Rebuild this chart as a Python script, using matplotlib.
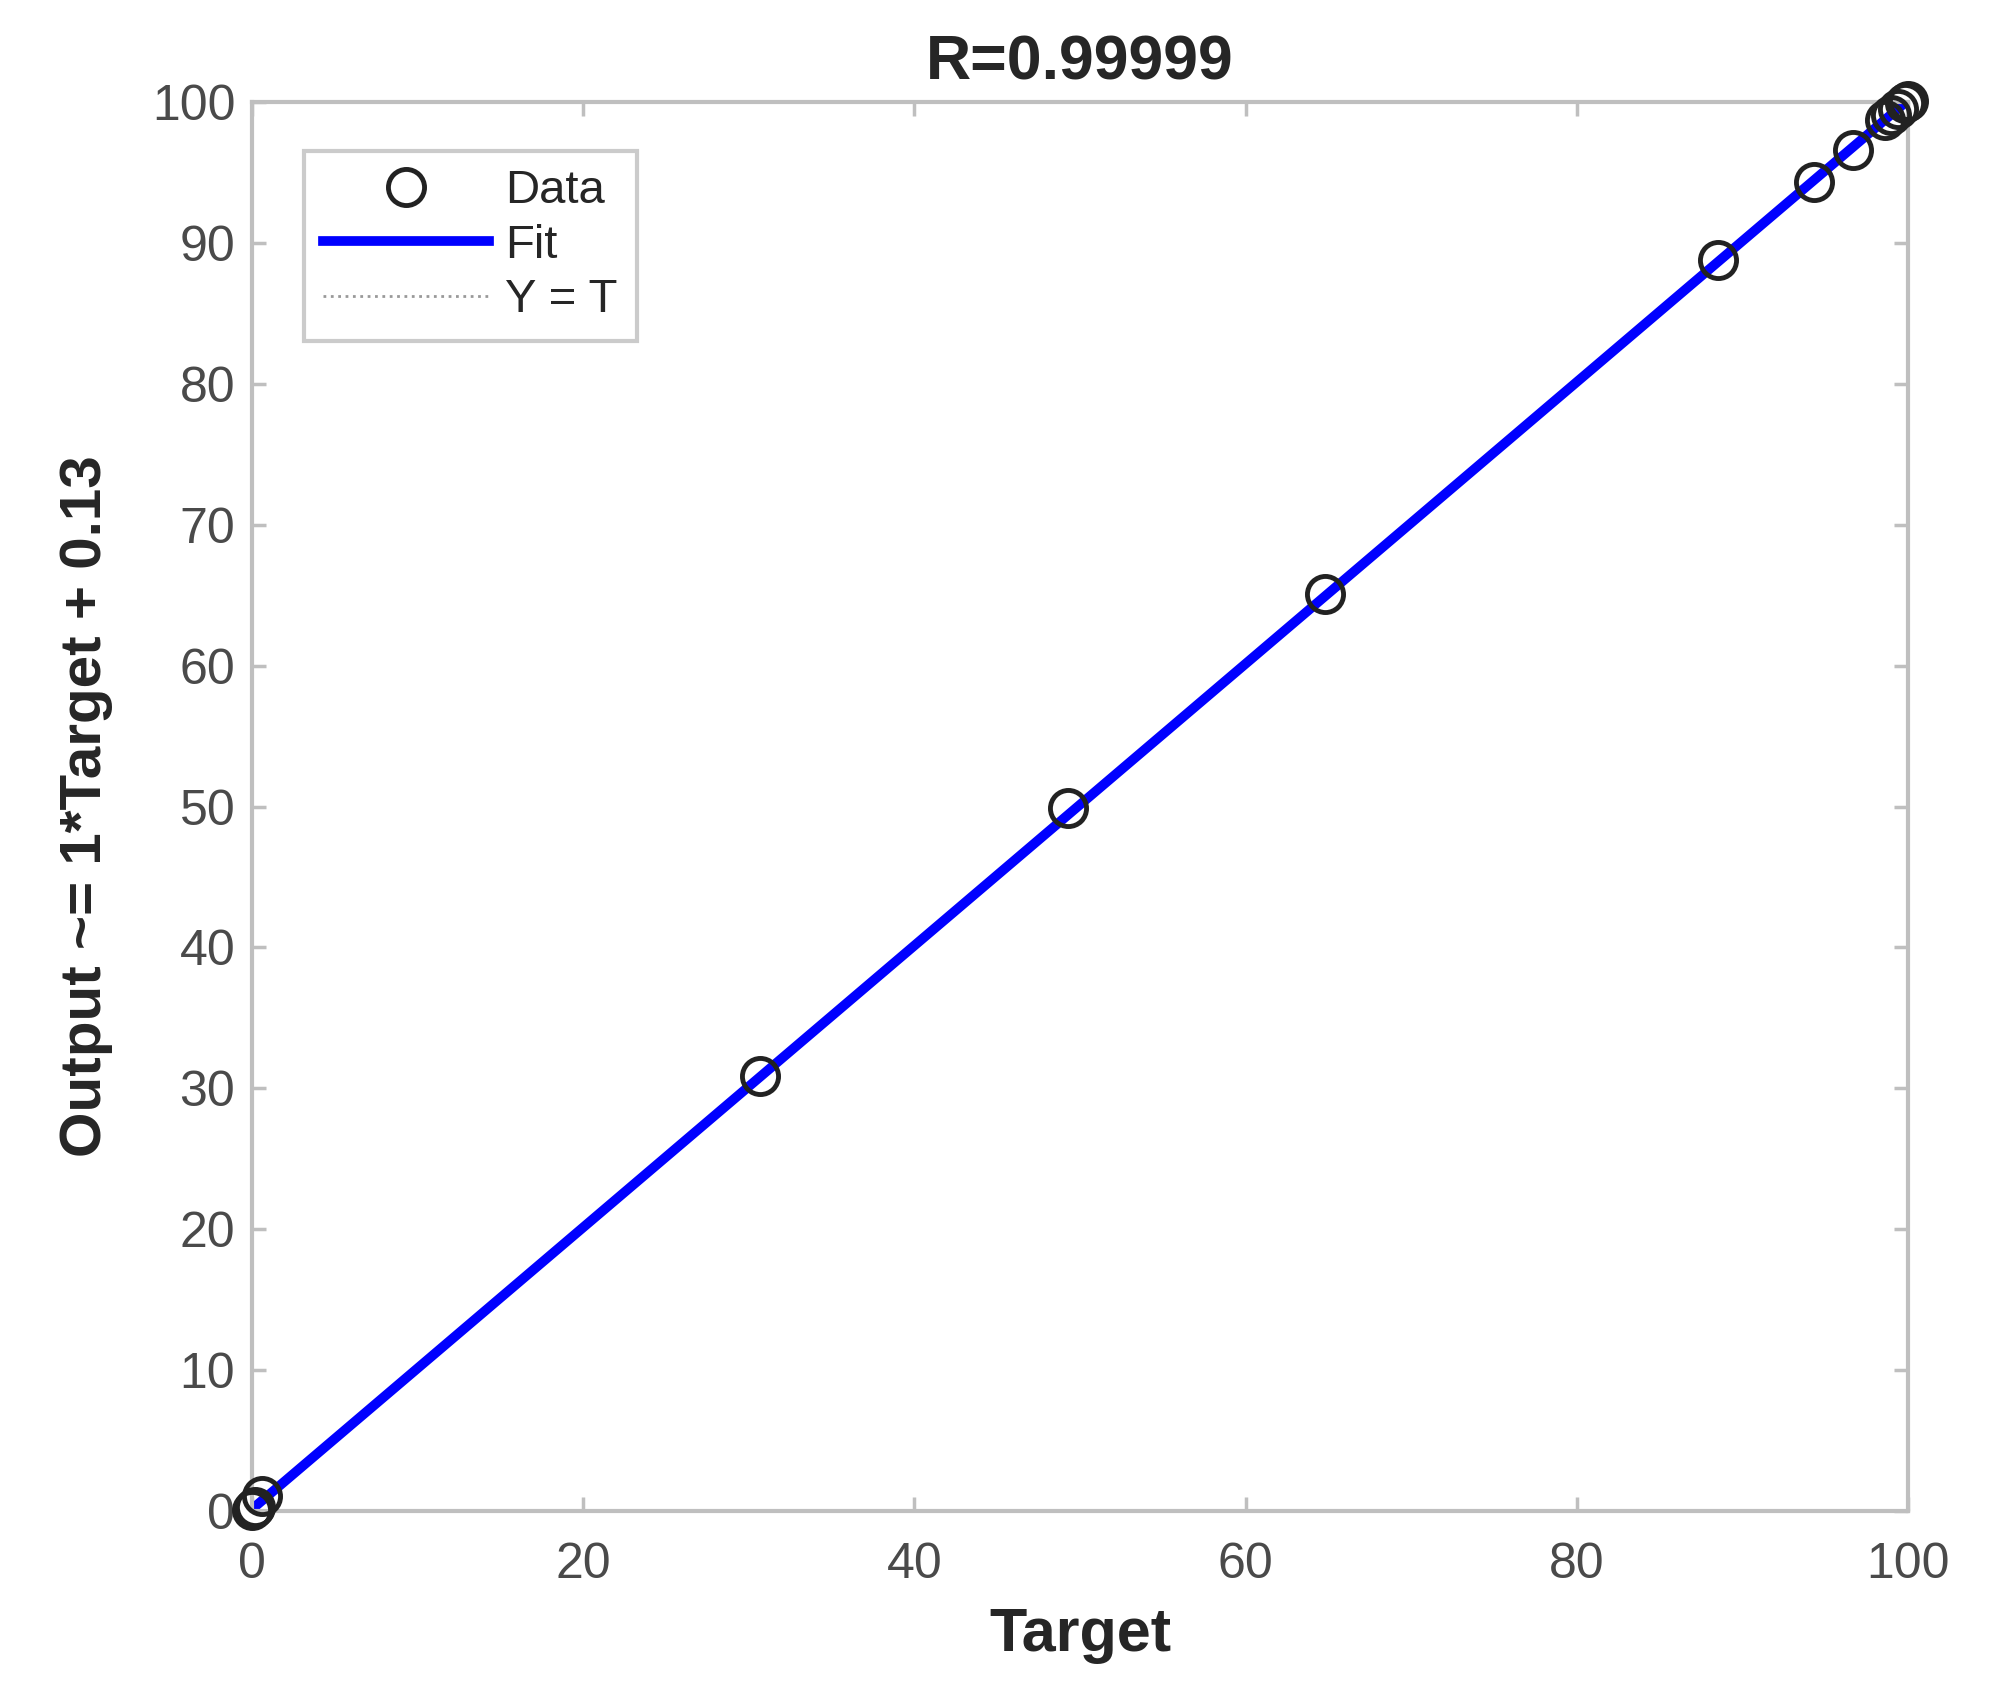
import matplotlib
matplotlib.use("Agg")
import matplotlib.pyplot as plt
import numpy as np

plt.rcParams['font.family'] = ['Liberation Sans', 'DejaVu Sans']

target = [0.0, 0.1, 0.2, 0.6, 30.7, 49.3, 64.8, 88.5, 94.3, 96.7, 98.6, 99.0, 99.4, 99.8, 100.0]
output = [0.1, 0.2, 0.3, 1.1, 30.9, 49.9, 65.1, 88.8, 94.3, 96.6, 98.7, 99.1, 99.5, 99.9, 100.1]
fit_x = [0, 100]
slope, intercept = 1.0, 0.13
xticks = [0, 20, 40, 60, 80, 100]
yticks = [0, 10, 20, 30, 40, 50, 60, 70, 80, 90, 100]

fig = plt.figure(figsize=(20.08, 17.07), dpi=100)
ax = fig.add_axes([252/2008, 1 - 1511/1707, (1908-252)/2008, (1511-102)/1707])

ax.plot(target, output, 'o', mfc='none', mec='#222222', ms=26, mew=3.5, label='Data',
        zorder=3, clip_on=False)
fx = np.array(fit_x)
ax.plot(fx, slope*fx + intercept, '-', color='#0000ff', lw=7, label='Fit', zorder=2)
ax.plot(fx, fx, ':', color='#999999', lw=2, label='Y = T', zorder=1)

ax.set_xlim(0, 100)
ax.set_ylim(0, 100)
ax.set_xticks(xticks)
ax.set_yticks(yticks)
gray = '#4a4a4a'
ax.tick_params(direction='in', length=10, width=2.5, colors='#bfbfbf', labelcolor=gray,
               labelsize=36, top=True, right=True)
ax.tick_params(axis='x', pad=22)
ax.tick_params(axis='y', pad=12)
for s in ax.spines.values():
    s.set_color('#bfbfbf')
    s.set_linewidth(3)

ax.set_xlabel('Target', fontsize=44, fontweight='bold', color='#262626', labelpad=14)
ax.set_ylabel('Output ~= 1*Target + 0.13', fontsize=42, fontweight='bold', color='#262626', labelpad=28)
ax.set_title('R=0.99999', fontsize=45, fontweight='bold', color='#262626', pad=16)

leg = ax.legend(loc='upper left', bbox_to_anchor=(0.0317, 0.9655), borderaxespad=0,
                fontsize=34, frameon=True, fancybox=False, edgecolor='#bfbfbf',
                handlelength=3.5, markerfirst=True, borderpad=0.4, labelspacing=0.22,
                handletextpad=0.35)
leg.get_frame().set_linewidth(3)
for t in leg.get_texts():
    t.set_color('#262626')

fig.savefig('out.png', dpi=100)
